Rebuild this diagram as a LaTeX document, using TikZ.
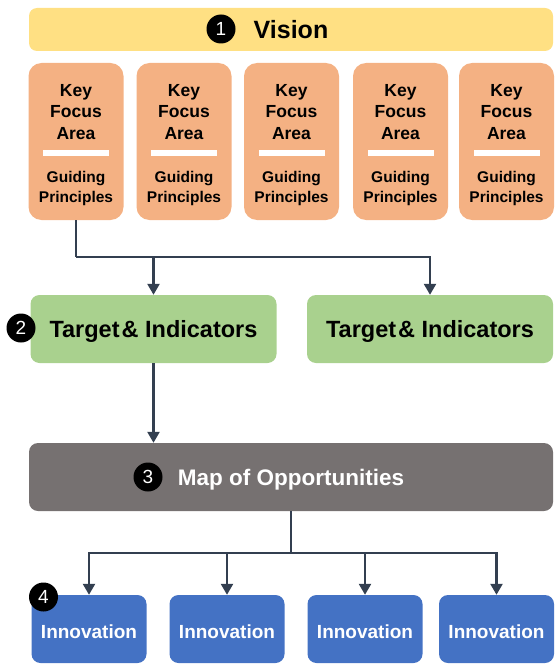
\documentclass[tikz,border=0pt]{standalone}
\usepackage{fontspec}
\setmainfont{Liberation Sans}
\usepackage{xcolor}
\usetikzlibrary{arrows.meta}

\definecolor{visionyellow}{HTML}{FFE083}
\definecolor{kfaorange}{HTML}{F4B183}
\definecolor{tgtgreen}{HTML}{A9D18E}
\definecolor{mapgray}{HTML}{767171}
\definecolor{innblue}{HTML}{4472C4}
\definecolor{linknavy}{HTML}{333F50}

\tikzset{
  box/.style={rounded corners=9pt, inner sep=0pt, font=\bfseries},
  visionbox/.style={box, fill=visionyellow, minimum width=524pt, minimum height=43pt, rounded corners=8pt},
  kfabox/.style={box, fill=kfaorange, minimum width=95pt, minimum height=157pt, rounded corners=13pt},
  kfatop/.style={align=center, inner sep=0pt, font=\bfseries\fontsize{17.5}{21.5}\selectfont},
  kfabottom/.style={align=center, inner sep=0pt, font=\bfseries\fontsize{15.5}{20}\selectfont},
  tgtbox/.style={box, fill=tgtgreen, minimum width=246pt, minimum height=68pt, text depth=0pt, font=\bfseries\fontsize{23.5}{26}\selectfont},
  mapbox/.style={box, fill=mapgray, text=white, minimum width=524pt, minimum height=68pt, text depth=0pt, font=\bfseries\fontsize{22.5}{26}\selectfont},
  innbox/.style={box, fill=innblue, text=white, minimum width=115pt, minimum height=68pt, text height=19pt, text depth=0pt, font=\bfseries\fontsize{19}{22}\selectfont},
  num/.style={circle, fill=black, text=white, minimum size=29pt, inner sep=0pt, font=\fontsize{19}{19}\selectfont},
  link/.style={draw=linknavy, line width=2.4pt},
}

\begin{document}
\begin{tikzpicture}[x=1pt, y=1pt, >={Triangle[width=12pt,length=11pt]}]
        \useasboundingbox (0,0) rectangle (554,-666);

        % vision
        \node [visionbox] (vis) at (291,-29.5) {};
        \node [inner sep=0pt, font=\bfseries\fontsize{25}{28}\selectfont] (vistext) at (vis.center) {Vision};
        \node [num] (n1) at (221,-29) {1};

        % key focus areas
        \foreach \i/\x in {1/76,2/184,3/291.5,4/400.5,5/506.5} {
          \node [kfabox] (kfa\i) at (\x,-141.5) {};
          \node [kfatop] (key\i) at ([yshift=29.5pt]kfa\i.center) {Key\\Focus\\Area};
          \fill [white] ([xshift=-33pt,yshift=-8pt]kfa\i.center) rectangle ([xshift=33pt,yshift=-14pt]kfa\i.center);
          \node [kfabottom] (gp\i) at ([yshift=-46.5pt]kfa\i.center) {Guiding\\Principles};
        }

        % targets
        \node [tgtbox] (tgt1) at (153.5,-329) {Target\kern2pt\& Indicators};
        \node [tgtbox] (tgt2) at (430,-329) {Target\kern2pt\& Indicators};
        \node [num] (n2) at (21,-328) {2};

        \coordinate (j1) at (76,-257);
        \draw [link] (kfa1.south) -- (j1);
        \draw [link, ->] (j1) -| (tgt2.north);
        \draw [link, ->] (j1 -| tgt1.north) -- (tgt1.north);

        % map
        \node [mapbox] (map) at (291,-477) {Map of Opportunities};
        \node [num] (n3) at (148,-477) {3};
        \draw [link, ->] (tgt1.south) -- (tgt1.south |- map.north);

        % innovations
        \foreach \i/\x in {1/89,2/227,3/365,4/496.5}
          \node [innbox] (inn\i) at (\x,-629) {Innovation};
        \node [num] (n4) at (43.5,-597) {4};

        \coordinate (j2) at (map.south |- 0,-553);
        \draw [link] (map.south) -- (j2);
        \foreach \i in {1,...,4}
          \draw [link, ->] (j2) -| (inn\i.north);
\end{tikzpicture}
\end{document}
